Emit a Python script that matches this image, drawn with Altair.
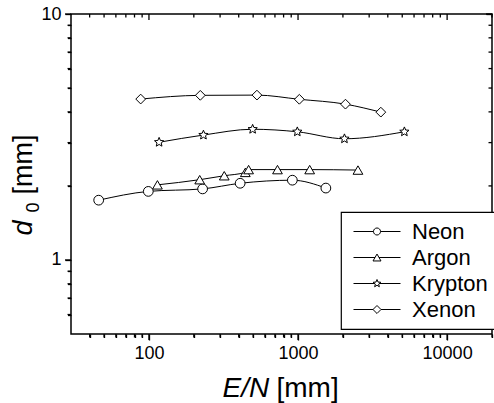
import altair as alt
import pandas as pd

# ---- data ----
series = ["Neon", "Argon", "Krypton", "Xenon"]

neon_x = [46, 99, 229, 409, 916, 1537]
neon_y = [1.75, 1.90, 1.945, 2.05, 2.11, 1.96]

argon_x = [114, 219, 320, 443, 466, 728, 1197, 2523]
argon_y = [2.02, 2.12, 2.20, 2.27, 2.33, 2.33, 2.33, 2.32]

krypton_x = [117, 232, 496, 989, 2048, 5168]
krypton_y = [3.01, 3.22, 3.40, 3.32, 3.11, 3.32]

xenon_x = [88, 221, 530, 1020, 2080, 3592]
xenon_y = [4.51, 4.67, 4.68, 4.50, 4.30, 3.99]

x_major = [100, 1000, 10000]
x_minor = [40, 50, 60, 70, 80, 90, 200, 300, 400, 500, 600, 700, 800, 900,
           2000, 3000, 4000, 5000, 6000, 7000, 8000, 9000, 20000]
y_major = [1, 10]
y_minor = [0.6, 0.7, 0.8, 0.9, 2, 3, 4, 5, 6, 7, 8, 9]

X_DOMAIN = [30, 20000]
Y_DOMAIN = [0.5, 10]

rows = []
for name, xs_, ys_ in [("Neon", neon_x, neon_y), ("Argon", argon_x, argon_y),
                       ("Krypton", krypton_x, krypton_y), ("Xenon", xenon_x, xenon_y)]:
    for a, b in zip(xs_, ys_):
        rows.append({"gas": name, "EN": a, "d0": b})
df = pd.DataFrame(rows)

FONT = "Liberation Sans"
W, H = 421, 320
MAJ, MIN = 6, 3.5
TW = 1.3

STAR = ("M0,-1L0.265,-0.364L0.951,-0.309L0.428,0.139L0.588,0.809L0,0.45"
        "L-0.588,0.809L-0.428,0.139L-0.951,-0.309L-0.265,-0.364Z")
plot_shapes = ["circle", "triangle-up", STAR, "diamond"]

legend_shapes = [
    "M-1,0L-0.15,0M0.15,0L1,0M0.15,0A0.15,0.15,0,1,1,-0.15,0A0.15,0.15,0,1,1,0.15,0Z",
    "M-1,0L-0.085,0M0.085,0L1,0M0,-0.147L0.17,0.147L-0.17,0.147Z",
    "M-1,0L-0.1,0M0.1,0L1,0M0,-0.17L0.044,-0.061L0.162,-0.053L0.071,0.023L0.1,0.138"
    "L0,0.075L-0.1,0.138L-0.071,0.023L-0.162,-0.053L-0.044,-0.061Z",
    "M-1,0L-0.17,0M0.17,0L1,0M0,-0.17L0.17,0L0,0.17L-0.17,0Z",
]

xscale = alt.Scale(type="log", domain=X_DOMAIN)
yscale = alt.Scale(type="log", domain=Y_DOMAIN)

tick_style = dict(grid=False, ticks=True, tickColor="black", tickWidth=TW)

bottom_major = alt.Axis(orient="bottom", values=x_major, tickSize=MAJ, format="d",
                        domain=False,
                        labelFont=FONT, labelFontSize=18, labelColor="black", labelPadding=4,
                        title="E/N", titleFont=FONT, titleFontSize=28, titleFontStyle="italic",
                        titleFontWeight="normal", titleColor="black", titleX=151, titleY=62,
                        titleAlign="left", titleBaseline="alphabetic", titleAngle=0, **tick_style)
bottom_minor = alt.Axis(orient="bottom", values=x_minor, tickSize=MIN, labels=False,
                        domain=False,
                        title="[mm]", titleFont=FONT, titleFontSize=28, titleFontWeight="normal",
                        titleColor="black", titleX=205, titleY=62, titleAlign="left",
                        titleBaseline="alphabetic", titleAngle=0, **tick_style)
left_major = alt.Axis(orient="left", values=y_major, tickSize=MAJ, format="d",
                      domain=False,
                      labelFont=FONT, labelFontSize=18, labelColor="black", labelPadding=4,
                      title="d", titleFont=FONT, titleFontSize=27, titleFontStyle="italic",
                      titleFontWeight="normal", titleColor="black", titleX=-40, titleY=221,
                      titleAlign="left", titleBaseline="alphabetic", titleAngle=270, **tick_style)
left_minor = alt.Axis(orient="left", values=y_minor, tickSize=MIN, labels=False,
                      domain=False,
                      title="[mm]", titleFont=FONT, titleFontSize=27,
                      titleFontWeight="normal", titleColor="black", titleX=-40, titleY=180,
                      titleAlign="left", titleBaseline="alphabetic", titleAngle=270, **tick_style)
right_major = alt.Axis(orient="right", values=y_major, tickSize=MAJ, offset=-MAJ, labels=False,
                       domain=False,
                       title="0", titleFont=FONT, titleFontSize=18, titleFontWeight="normal",
                       titleColor="black", titleX=-448, titleY=198, titleAlign="left",
                       titleBaseline="alphabetic", titleAngle=270, **tick_style)

base = alt.Chart(df)

lines = base.mark_line(color="black", strokeWidth=1, interpolate="monotone").encode(
    x=alt.X("EN:Q", scale=xscale, axis=bottom_major),
    y=alt.Y("d0:Q", scale=yscale, axis=left_major),
    detail="gas:N",
)

points = base.mark_point(filled=True, fill="white", stroke="black", strokeWidth=1,
                         size=95, opacity=1).encode(
    x=alt.X("EN:Q", scale=xscale, axis=bottom_minor),
    y=alt.Y("d0:Q", scale=yscale, axis=left_minor),
    shape=alt.Shape("gas:N", scale=alt.Scale(domain=series, range=plot_shapes), legend=None),
)

legend_layer = base.transform_filter("false").mark_point(
    filled=False, color="black", strokeWidth=1, size=2209, opacity=1
).encode(
    x=alt.X("EN:Q", scale=xscale, axis=None),
    y=alt.Y("d0:Q", scale=yscale, axis=right_major),
    shape=alt.Shape("gas:N", scale=alt.Scale(domain=series, range=legend_shapes),
                    legend=alt.Legend(title=None, orient="none", legendX=270, legendY=198)),
)

# frame tick marks: one-sided line symbols placed on the frame edges through the scales
tick_rows = []
for ln, vals in [(MAJ, x_major), (MIN, x_minor)]:
    for v in vals:
        tick_rows.append({"tx": v, "ty": Y_DOMAIN[0], "dir": "v", "sz": (2 * ln) ** 2})
        tick_rows.append({"tx": v, "ty": Y_DOMAIN[1], "dir": "v", "sz": (2 * ln) ** 2})
for ln, vals in [(MAJ, y_major), (MIN, y_minor)]:
    for v in vals:
        tick_rows.append({"tx": X_DOMAIN[0], "ty": v, "dir": "h", "sz": (2 * ln) ** 2})
        tick_rows.append({"tx": X_DOMAIN[1], "ty": v, "dir": "h", "sz": (2 * ln) ** 2})
ticks_df = pd.DataFrame(tick_rows)

ticks_layer = alt.Chart(ticks_df).mark_point(filled=False, color="black", strokeWidth=TW,
                                             opacity=1).encode(
    x=alt.X("tx:Q", scale=xscale, axis=None),
    y=alt.Y("ty:Q", scale=yscale, axis=None),
    shape=alt.Shape("dir:N", scale=alt.Scale(domain=["v", "h"],
                                             range=["M0,0L0,1", "M0,0L-1,0"]), legend=None),
    size=alt.Size("sz:Q", scale=None, legend=None),
)

chart = (
    alt.layer(lines, points, legend_layer, ticks_layer)
    .resolve_scale(shape="independent")
    .resolve_axis(x="independent", y="independent")
    .properties(width=W, height=H, autosize=alt.AutoSizeParams(type="none"),
                padding={"left": 71, "top": 14, "right": 2, "bottom": 69})
    .configure_view(stroke="black", strokeWidth=1.5)
    .configure_legend(labelFont=FONT, labelFontSize=22, labelColor="black", padding=6.5,
                      rowPadding=0, clipHeight=26, strokeColor="black", strokeWidth=1.2,
                      fillColor="white", symbolSize=2209, symbolStrokeWidth=1,
                      symbolOffset=5.5, labelOffset=11, symbolStrokeColor="black",
                      symbolOpacity=1)
)

chart.save("out.html", embed_options={"renderer": "svg", "actions": False})
